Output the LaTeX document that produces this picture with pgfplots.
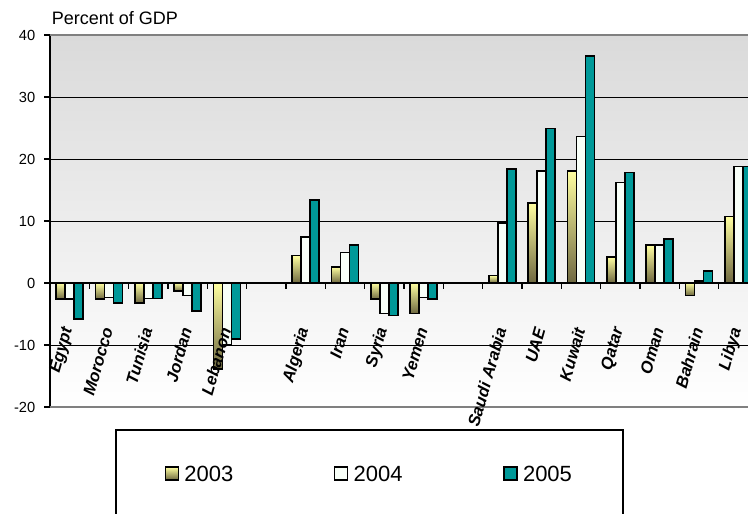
\documentclass[border=0pt]{standalone}
\usepackage{pgfplots}
\pgfplotsset{compat=1.18}
\usepackage{pgfplotstable}
\usepackage{fontspec}
\setmainfont{Liberation Sans}
\definecolor{ylwtop}{RGB}{255,255,160}
\definecolor{ylwmid}{RGB}{225,220,135}
\definecolor{ylwbot}{RGB}{110,104,64}
\definecolor{wht}{RGB}{248,255,248}
\definecolor{teal5}{RGB}{0,153,153}
\definecolor{bgtop}{RGB}{218,218,218}
\definecolor{bordergray}{RGB}{128,128,128}

\pgfplotstableread{
x y03 y04 y05
0 -2.6 -2.6 -5.8
1 -2.6 -2.3 -3.2
2 -3.2 -2.5 -2.5
3 -1.3 -2.0 -4.5
4 -13.9 -9.9 -9.0
6 4.4 7.4 13.4
7 2.6 4.9 6.1
8 -2.6 -4.9 -5.2
9 -4.9 -2.3 -2.6
11 1.2 9.7 18.4
12 12.9 18.1 24.9
13 18.1 23.6 36.6
14 4.2 16.2 17.8
15 6.1 6.1 7.1
16 -2.0 0.3 1.9
17 10.7 18.8 18.8
}\datatable

\pgfplotsset{
  s03/.style={ybar, bar width=0.229, bar shift=-0.229, draw=black, line width=1.1pt, top color=ylwtop, middle color=ylwmid, bottom color=ylwbot},
  s04/.style={ybar, bar width=0.229, bar shift=0, draw=black, line width=1.1pt, fill=wht},
  s05/.style={ybar, bar width=0.229, bar shift=0.229, draw=black, line width=1.1pt, fill=teal5},
}

\begin{document}
\begin{tikzpicture}
\begin{axis}[
  set layers,
  at={(0,0)}, anchor=south west,
  scale only axis, width=531pt, height=279pt,
  xmin=-0.5, xmax=17.5, ymin=-20, ymax=40,
  axis y line*=left, axis x line*=middle,
  axis line style={line width=1.5pt, black},
  hide obscured y ticks=false,
  axis background/.style={top color=bgtop, bottom color=white},
  ytick={-20,-10,...,40},
  ymajorgrids, major grid style={black, line width=0.6pt},
  xtick={0,...,17},
  xticklabels={Egypt,Morocco,Tunisia,Jordan,Lebanon,{},Algeria,Iran,Syria,Yemen,{},Saudi Arabia,UAE,Kuwait,Qatar,Oman,Bahrain,Libya},
  minor xtick={-0.5,0.5,...,17.5},
  major x tick style={draw=none},
  minor x tick style={black, line width=0.8pt},
  major y tick style={black, line width=1pt},
  major tick length=4.5pt, minor tick length=4.5pt,
  xtick align=outside, ytick align=outside,
  /pgf/number format/assume math mode=true,
  yticklabel style={font=\fontsize{11}{13}\selectfont, xshift=-3pt},
  xticklabel style={font=\fontsize{12.5}{14}\selectfont\bfseries\itshape, rotate=74, anchor=east, /pgfplots/on layer=axis foreground},
  xticklabel shift=26pt,
  title={Percent of GDP},
  title style={at={(-0.004,1.027)}, anchor=base west, yshift=-6pt, font=\fontsize{13.5}{16}\selectfont},
  legend columns=3,
  legend image code/.code={\draw[#1, line width=1pt] (0pt,-4pt) rectangle (9.75pt,5.75pt);},
  legend style={at={(0.092,-0.0591)}, anchor=north west, draw=black, line width=1.5pt,
    inner xsep=36.5pt, inner ysep=25pt, font=\fontsize{16.5}{19}\selectfont,
    /tikz/every odd column/.append style={column sep=2pt},
    /tikz/every even column/.append style={column sep=73.5pt}},
  after end axis/.code={
    \draw[bordergray, line width=1.5pt] (rel axis cs:0,1) -- (rel axis cs:1,1);
    \draw[bordergray, line width=1.5pt] (rel axis cs:0,0) -- (rel axis cs:1,0);
  },
]
\pgfplotsinvokeforeach{0,...,15}{
  \addplot[s03, forget plot] table[x=x, y=y03, restrict expr to domain={\coordindex}{#1:#1}]{\datatable};
}
\addplot[s04, forget plot] table[x=x, y=y04]{\datatable};
\addplot[s05, forget plot] table[x=x, y=y05]{\datatable};
\addlegendimage{s03}\addlegendentry{2003}
\addlegendimage{s04}\addlegendentry{2004}
\addlegendimage{s05}\addlegendentry{2005}
\end{axis}
\pgfresetboundingbox
\path[use as bounding box] (-37.5pt,-79.5pt) rectangle (523.5pt,305.25pt);
\end{tikzpicture}
\end{document}
